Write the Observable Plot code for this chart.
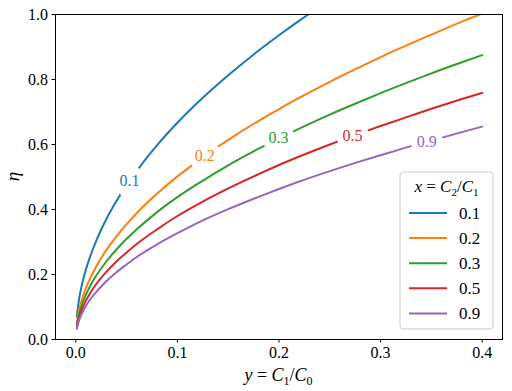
<!DOCTYPE html>
<html>
<head>
<meta charset="utf-8">
<script src="https://cdn.jsdelivr.net/npm/d3@7"></script>
<script src="https://cdn.jsdelivr.net/npm/@observablehq/plot@0.6"></script>
<style>
  html, body { margin: 0; padding: 0; background: white; }
  #chart { position: relative; width: 512px; height: 391px; }
</style>
</head>
<body>
<div id="chart"></div>
<script>
// ---- data ----
const yGrid = [0.001, 0.003, 0.006, 0.01, 0.015, 0.02, 0.03, 0.04, 0.05, 0.06, 0.08, 0.1, 0.12, 0.15, 0.18, 0.2, 0.22, 0.25, 0.28, 0.3, 0.33, 0.35, 0.38, 0.4];
const yGridBlue = [0.001, 0.003, 0.006, 0.01, 0.015, 0.02, 0.03, 0.04, 0.05, 0.06, 0.08, 0.1, 0.12, 0.15, 0.18, 0.2, 0.22, 0.24];
const eta_x01 = [0.070, 0.120, 0.168, 0.216, 0.263, 0.303, 0.370, 0.426, 0.475, 0.519, 0.598, 0.667, 0.729, 0.813, 0.889, 0.936, 0.981, 1.024];
const eta_x02 = [0.050, 0.087, 0.123, 0.159, 0.194, 0.224, 0.275, 0.317, 0.355, 0.389, 0.449, 0.502, 0.549, 0.614, 0.673, 0.709, 0.744, 0.793, 0.839, 0.869, 0.911, 0.938, 0.978, 1.003];
const eta_x03 = [0.044, 0.076, 0.107, 0.138, 0.170, 0.196, 0.240, 0.277, 0.310, 0.339, 0.392, 0.438, 0.479, 0.536, 0.587, 0.619, 0.649, 0.692, 0.732, 0.758, 0.795, 0.819, 0.853, 0.875];
const eta_x05 = [0.038, 0.066, 0.093, 0.120, 0.147, 0.170, 0.208, 0.240, 0.268, 0.294, 0.339, 0.380, 0.416, 0.465, 0.509, 0.537, 0.563, 0.600, 0.635, 0.657, 0.689, 0.710, 0.740, 0.759];
const eta_x09 = [0.033, 0.057, 0.080, 0.104, 0.127, 0.146, 0.179, 0.207, 0.231, 0.254, 0.293, 0.327, 0.359, 0.401, 0.439, 0.463, 0.486, 0.518, 0.548, 0.567, 0.595, 0.612, 0.638, 0.655];

const seriesNames = ["0.1", "0.2", "0.3", "0.5", "0.9"];
const seriesColors = ["#1f77b4", "#ff7f0e", "#2ca02c", "#d62728", "#9467bd"];

// inline contour-style labels (position along each curve)
const labelY = [0.0528, 0.1268, 0.1996, 0.2724, 0.3455];
const labelEta = [0.487, 0.566, 0.620, 0.628, 0.609];

const xTicks = [0, 0.1, 0.2, 0.3, 0.4];
const yTicks = [0, 0.2, 0.4, 0.6, 0.8, 1.0];

// ---- build tables ----
const curves = [
  [yGridBlue, eta_x01],
  [yGrid, eta_x02],
  [yGrid, eta_x03],
  [yGrid, eta_x05],
  [yGrid, eta_x09]
];
const rows = [];
curves.forEach(([ys, es], i) => ys.forEach((y, j) => rows.push({s: seriesNames[i], y, eta: es[j]})));
const labels = seriesNames.map((s, i) => ({s, y: labelY[i], eta: labelEta[i]}));

const font = "'Liberation Serif', 'DejaVu Serif', serif";

const plot = Plot.plot({
  width: 512,
  height: 391,
  marginLeft: 55,
  marginRight: 10,
  marginTop: 14,
  marginBottom: 52,
  style: {fontFamily: font, fontSize: "16px", color: "black", background: "white"},
  x: {domain: [-0.02, 0.42], label: null},
  y: {domain: [0, 1], label: null},
  color: {domain: seriesNames, range: seriesColors},
  marks: [
    Plot.line(rows, {x: "y", y: "eta", z: "s", stroke: "s", strokeWidth: 2, curve: "monotone-x", clip: true}),
    Plot.dot(labels, {x: "y", y: "eta", r: 16, fill: "white", stroke: null}),
    Plot.text(labels, {x: "y", y: "eta", text: "s", fill: "s", fontSize: 16}),
    Plot.frame({stroke: "black", strokeWidth: 1}),
    Plot.axisX({ticks: xTicks, tickFormat: d3.format(".1f"), tickSize: 3.5, tickPadding: 4, fontSize: 16, label: null}),
    Plot.axisY({ticks: yTicks, tickFormat: d3.format(".1f"), tickSize: 3.5, tickPadding: 4, fontSize: 16, label: null})
  ]
});

document.getElementById("chart").appendChild(plot);

// ---- math-style axis labels and legend ----
const svg = d3.select(plot);
const sx = plot.scale("x"), sy = plot.scale("y");
const [x0, x1] = sx.range, [y0, y1] = sy.range; // y0 bottom, y1 top
const cx = (x0 + x1) / 2, cy = (y0 + y1) / 2;

// x label: y = C_1/C_0
const xl = svg.append("text")
  .attr("x", cx).attr("y", y0 + 42)
  .attr("text-anchor", "middle")
  .attr("font-family", font).attr("font-size", 18).attr("fill", "black");
xl.append("tspan").attr("font-style", "italic").text("y");
xl.append("tspan").text(" = ");
xl.append("tspan").attr("font-style", "italic").text("C");
xl.append("tspan").attr("font-size", 12).attr("dy", 4).text("1");
xl.append("tspan").attr("dy", -4).text("/");
xl.append("tspan").attr("font-style", "italic").text("C");
xl.append("tspan").attr("font-size", 12).attr("dy", 4).text("0");

// y label: eta
svg.append("text")
  .attr("transform", `translate(${x0 - 36},${cy}) rotate(-90)`)
  .attr("text-anchor", "middle")
  .attr("font-family", font).attr("font-size", 19).attr("font-style", "italic").attr("fill", "black")
  .text("η");

// legend (inside plot, lower right)
const lg = svg.append("g");
const lx = x1 - 102, ly = y0 - 167, lw = 93, lh = 157;
lg.append("rect").attr("x", lx).attr("y", ly).attr("width", lw).attr("height", lh)
  .attr("rx", 3).attr("fill", "white").attr("fill-opacity", 0.85).attr("stroke", "#cccccc");
const lt = lg.append("text").attr("x", lx + lw / 2).attr("y", ly + 20)
  .attr("text-anchor", "middle").attr("font-family", font).attr("font-size", 17).attr("fill", "black");
lt.append("tspan").attr("font-style", "italic").text("x");
lt.append("tspan").text(" = ");
lt.append("tspan").attr("font-style", "italic").text("C");
lt.append("tspan").attr("font-size", 11).attr("dy", 4).text("2");
lt.append("tspan").attr("dy", -4).text("/");
lt.append("tspan").attr("font-style", "italic").text("C");
lt.append("tspan").attr("font-size", 11).attr("dy", 4).text("1");
seriesNames.forEach((s, i) => {
  const yy = ly + 41 + i * 25.1;
  lg.append("line").attr("x1", lx + 9).attr("x2", lx + 47).attr("y1", yy).attr("y2", yy)
    .attr("stroke", seriesColors[i]).attr("stroke-width", 2);
  lg.append("text").attr("x", lx + 59).attr("y", yy + 6)
    .attr("text-anchor", "start")
    .attr("font-family", font).attr("font-size", 17).attr("fill", "black").text(s);
});
</script>
</body>
</html>
